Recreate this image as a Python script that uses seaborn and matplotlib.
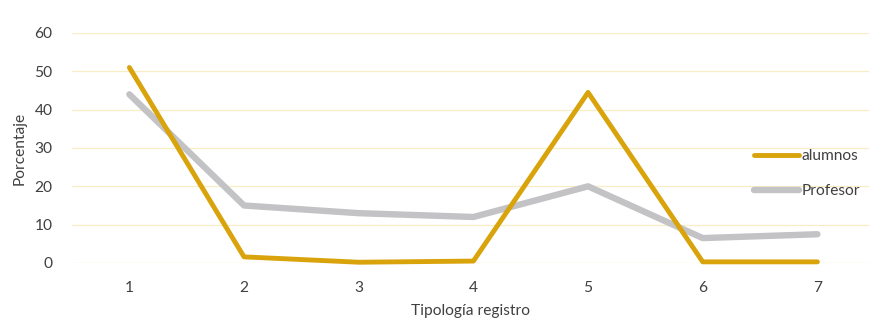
import matplotlib
matplotlib.use("Agg")
import matplotlib.pyplot as plt
import seaborn as sns
import pandas as pd

# Percentage of each record typology, by group
tipologia = [1, 2, 3, 4, 5, 6, 7]
alumnos = [51, 1.6, 0.2, 0.5, 44.5, 0.3, 0.3]
profesor = [44, 15, 13, 12, 20, 6.5, 7.5]
series_names = ["alumnos", "Profesor"]
colores = {"alumnos": "#D9A30C", "Profesor": "#C3C3C6"}
grosor = {"alumnos": 3.5, "Profesor": 4.6}
yticks = [0, 10, 20, 30, 40, 50, 60]

df = pd.DataFrame({
    "Tipología registro": tipologia * 2,
    "Porcentaje": alumnos + profesor,
    "serie": [series_names[0]] * len(tipologia) + [series_names[1]] * len(tipologia),
})

sns.set_theme(style="white")
plt.rcParams["font.family"] = ["Lato", "DejaVu Sans"]
fs = 11.2

fig = plt.figure(figsize=(8.71, 3.21), dpi=100)
ax = fig.add_axes([0.0827, 0.1807, 0.915, 0.7165])

# Profesor underneath, alumnos on top
for nombre in series_names[::-1]:
    sns.lineplot(data=df[df["serie"] == nombre], x="Tipología registro",
                 y="Porcentaje", color=colores[nombre], linewidth=grosor[nombre],
                 ax=ax, legend=False, clip_on=False, sort=False,
                 zorder=3 if nombre == "alumnos" else 2)

ax.set_xlim(0.5, 7.45)
ax.set_ylim(0, 60)
ax.set_xticks(tipologia)
ax.set_yticks(yticks)
ax.yaxis.grid(True, color="#F7EDC6", linewidth=0.9)
ax.xaxis.grid(False)
ax.set_axisbelow(True)
for s in ax.spines.values():
    s.set_visible(False)
ax.tick_params(axis="x", length=0, pad=13, labelsize=fs, colors="#404040")
ax.tick_params(axis="y", length=0, pad=14, labelsize=fs, colors="#404040")
ax.set_xlabel("Tipología registro", fontsize=fs, color="#404040", labelpad=6.5)
ax.set_ylabel("Porcentaje", fontsize=fs, color="#404040", labelpad=6)

handles = [plt.Line2D([], [], color=colores[n], linewidth=grosor[n]) for n in series_names]
fig.legend(handles, series_names, loc="upper left",
           bbox_to_anchor=(0.857, 0.56), frameon=False, fontsize=fs,
           handlelength=2.9, handletextpad=0.15, labelspacing=1.35, borderpad=0,
           labelcolor="#404040")

fig.savefig("out.png", dpi=100, facecolor="white")
